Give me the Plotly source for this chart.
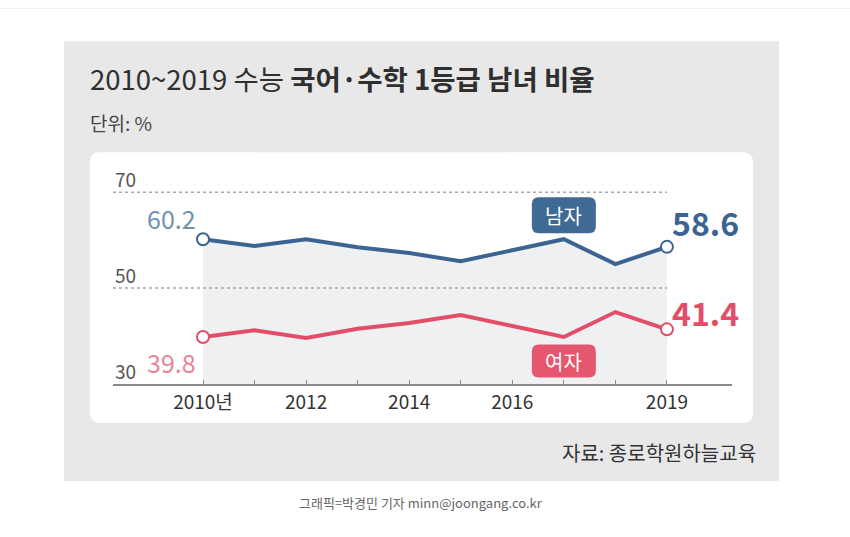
import plotly.graph_objects as go

# ---- data ----
years = [2010, 2011, 2012, 2013, 2014, 2015, 2016, 2017, 2018, 2019]
male = [60.2, 58.8, 60.2, 58.5, 57.3, 55.6, 57.9, 60.2, 55.0, 58.6]
female = [39.8, 41.2, 39.6, 41.5, 42.7, 44.4, 42.1, 39.8, 45.0, 41.4]
tick_labels = ["2010년", "", "2012", "", "2014", "", "2016", "", "", "2019"]
y_ticks = [70, 50, 30]
grid_vals = [70, 50]
title_regular = "2010~2019 수능 "
title_bold = "국어·수학 1등급 남녀 비율"
unit_text = "단위: %"
source_text = "자료: 종로학원하늘교육"
credit_text = "그래픽=박경민 기자 minn@joongang.co.kr"
male_name = "남자"
female_name = "여자"

# ---- layout geometry (pixels) ----
W, H = 850, 537
L, R = 113, 732          # plot area x pixels
T, B = 172.8, 384        # plot area y pixels
x_range = [2008.254, 2020.262]
y_range = [30, 74]

def px(xp):
    return (xp - L) / (R - L)

def py(yp):
    return (B - yp) / (B - T)

BLUE = "#3b6590"
PINK = "#e24e68"
BLUE_LT = "#7391ad"
PINK_LT = "#e9849a"
FONT = "Noto Sans CJK KR"

fig = go.Figure()

# fill under male line
fig.add_trace(go.Scatter(x=years, y=male, mode="lines", line=dict(width=0),
                         fill="tozeroy", fillcolor="#eff0f2", hoverinfo="skip",
                         showlegend=False))
fig.add_trace(go.Scatter(x=years, y=male, mode="lines",
                         line=dict(color=BLUE, width=4), name=male_name,
                         showlegend=False))
fig.add_trace(go.Scatter(x=years, y=female, mode="lines",
                         line=dict(color=PINK, width=4), name=female_name,
                         showlegend=False))
# endpoint markers
for ser, col in ((male, BLUE), (female, PINK)):
    fig.add_trace(go.Scatter(x=[years[0], years[-1]], y=[ser[0], ser[-1]],
                             mode="markers",
                             marker=dict(size=12, color="white",
                                         line=dict(color=col, width=2)),
                             showlegend=False, cliponaxis=False))

shapes = []
# top thin line
shapes.append(dict(type="line", xref="paper", yref="paper",
                   x0=px(0), x1=px(W), y0=py(8), y1=py(8),
                   line=dict(color="#ececec", width=1), layer="below"))
# gray panel
shapes.append(dict(type="rect", xref="paper", yref="paper",
                   x0=px(64), x1=px(779), y0=py(481), y1=py(41),
                   fillcolor="#e8e8e9", line=dict(width=0), layer="below"))

def conv_path(x0p, x1p, y0p, y1p, r):
    pts = lambda a, b: f"{px(a)} {py(b)}"
    return (f"M {pts(x0p + r, y0p)} L {pts(x1p - r, y0p)} Q {pts(x1p, y0p)} {pts(x1p, y0p + r)} "
            f"L {pts(x1p, y1p - r)} Q {pts(x1p, y1p)} {pts(x1p - r, y1p)} "
            f"L {pts(x0p + r, y1p)} Q {pts(x0p, y1p)} {pts(x0p, y1p - r)} "
            f"L {pts(x0p, y0p + r)} Q {pts(x0p, y0p)} {pts(x0p + r, y0p)} Z")

# white rounded box
shapes.append(dict(type="path", xref="paper", yref="paper",
                   path=conv_path(90, 753, 152, 423, 10),
                   fillcolor="white", line=dict(width=0), layer="below"))
# dotted gridlines
for g in grid_vals:
    shapes.append(dict(type="line", xref="x", yref="y",
                       x0=x_range[0], x1=years[-1], y0=g, y1=g,
                       line=dict(color="#a8a8a8", width=1.5, dash="dot"),
                       layer="above"))

# legend boxes (pixel-sized rounded rectangles anchored at data)
def rbox(w, h, rr):
    hw, hh = w / 2, h / 2
    return (f"M {-hw + rr} {-hh} L {hw - rr} {-hh} Q {hw} {-hh} {hw} {-hh + rr} "
            f"L {hw} {hh - rr} Q {hw} {hh} {hw - rr} {hh} "
            f"L {-hw + rr} {hh} Q {-hw} {hh} {-hw} {hh - rr} "
            f"L {-hw} {-hh + rr} Q {-hw} {-hh} {-hw + rr} {-hh} Z")

ppu = (B - T) / (y_range[1] - y_range[0])
legend_x = years[7]
male_box_y = y_range[0] + (B - 215) / ppu
female_box_y = y_range[0] + (B - 361) / ppu
for yy, col, hgt in ((male_box_y, "#3f6a93", 36), (female_box_y, "#e5566f", 33)):
    shapes.append(dict(type="path", xref="x", yref="y", xsizemode="pixel",
                       ysizemode="pixel", xanchor=legend_x, yanchor=yy,
                       path=rbox(64, hgt, 7), fillcolor=col,
                       line=dict(width=0), layer="above"))

ann = []
# title
ann.append(dict(xref="paper", yref="paper", x=px(88), y=py(78),
                xanchor="left", yanchor="middle", showarrow=False,
                text=f"{title_regular}<b>{title_bold}</b>",
                font=dict(family=FONT, size=27.5, color="#2f2f2f")))
ann.append(dict(xref="paper", yref="paper", x=px(88), y=py(122),
                xanchor="left", yanchor="middle", showarrow=False,
                text=unit_text, font=dict(family=FONT, size=19, color="#444")))
ann.append(dict(xref="paper", yref="paper", x=px(758), y=py(453),
                xanchor="right", yanchor="middle", showarrow=False,
                text=source_text, font=dict(family=FONT, size=20, color="#333")))
ann.append(dict(xref="paper", yref="paper", x=px(421), y=py(503),
                xanchor="center", yanchor="middle", showarrow=False,
                text=credit_text, font=dict(family=FONT, size=13, color="#666")))
# y tick labels above gridlines
for v in y_ticks:
    ann.append(dict(xref="paper", yref="y", x=0, y=v, xanchor="left",
                    yanchor="bottom", yshift=-2, showarrow=False, text=str(v),
                    font=dict(family=FONT, size=19, color="#555")))
# value labels
ann.append(dict(x=years[0], y=male[0], text=f"{male[0]}", showarrow=False,
                xanchor="right", yanchor="middle", xshift=-5, yshift=21,
                font=dict(family=FONT, size=25, color=BLUE_LT)))
ann.append(dict(x=years[0], y=female[0], text=f"{female[0]}", showarrow=False,
                xanchor="right", yanchor="middle", xshift=-5, yshift=-25,
                font=dict(family=FONT, size=25, color=PINK_LT)))
ann.append(dict(x=years[-1], y=male[-1], text=f"<b>{male[-1]}</b>", showarrow=False,
                xanchor="left", yanchor="middle", xshift=3, yshift=25,
                font=dict(family=FONT, size=32, color=BLUE)))
ann.append(dict(x=years[-1], y=female[-1], text=f"<b>{female[-1]}</b>", showarrow=False,
                xanchor="left", yanchor="middle", xshift=3, yshift=17,
                font=dict(family=FONT, size=32, color=PINK)))
# legend texts
ann.append(dict(x=legend_x, y=male_box_y, text=male_name, showarrow=False,
                xanchor="center", yanchor="middle",
                font=dict(family=FONT, size=20, color="white")))
ann.append(dict(x=legend_x, y=female_box_y, text=female_name, showarrow=False,
                xanchor="center", yanchor="middle",
                font=dict(family=FONT, size=20, color="white")))

fig.update_layout(
    width=W, height=H,
    margin=dict(l=L, r=W - R, t=T, b=H - B),
    paper_bgcolor="white", plot_bgcolor="rgba(0,0,0,0)",
    shapes=shapes, annotations=ann, showlegend=False,
    xaxis=dict(range=x_range, tickvals=years, ticktext=tick_labels,
               showgrid=False, zeroline=False, showline=True,
               linecolor="#8a8a8a", linewidth=1.5, ticks="inside",
               ticklen=4, tickcolor="#8a8a8a", tickwidth=1.2,
               tickfont=dict(family=FONT, size=19, color="#333")),
    yaxis=dict(range=y_range, showticklabels=False, showgrid=False,
               zeroline=False, showline=False, ticks=""),
    font=dict(family=FONT),
)

fig.write_html("out.html")
